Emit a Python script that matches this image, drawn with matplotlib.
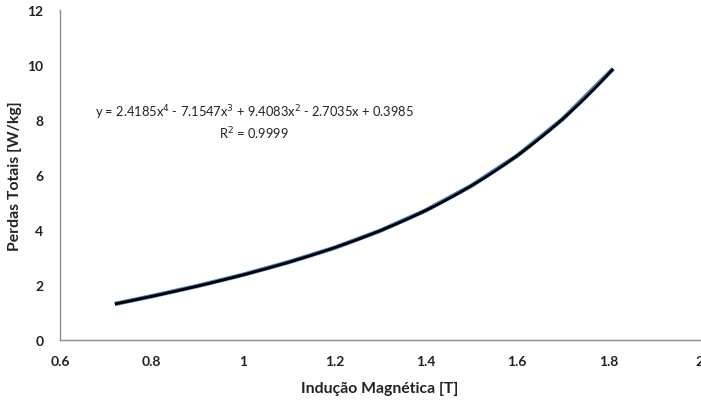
import numpy as np
import matplotlib
matplotlib.use("Agg")
import matplotlib.pyplot as plt

# measured core losses vs. peak induction
induction = [0.72, 0.80, 0.90, 1.00, 1.10, 1.20, 1.30, 1.40, 1.50, 1.60, 1.70, 1.81]
losses = [1.31, 1.59, 1.96, 2.37, 2.83, 3.35, 3.97, 4.71, 5.61, 6.70, 8.04, 9.86]

# 4th order polynomial trendline, highest power first
trend_coef = [2.4185, -7.1547, 9.4083, -2.7035, 0.3985]
r_squared = 0.9999

x_ticks = [0.6, 0.8, 1.0, 1.2, 1.4, 1.6, 1.8, 2.0]
y_ticks = [0, 2, 4, 6, 8, 10, 12]

plt.rcParams['font.family'] = ['Lato', 'DejaVu Sans']

fig = plt.figure(figsize=(7.01, 4.02), dpi=100)
ax = fig.add_axes([60 / 701, 1 - 341 / 402, 640 / 701, 330 / 402])

ax.plot(induction, losses, color='#4F81BD', lw=3.2, solid_capstyle='butt', zorder=2)
xs = np.linspace(induction[0], induction[-1], 200)
ax.plot(xs, np.polyval(trend_coef, xs), color='black', lw=2.0, solid_capstyle='butt', zorder=3)

ax.set_xlim(0.6, 2.0)
ax.set_ylim(0, 12)
ax.set_xticks(x_ticks)
ax.set_yticks(y_ticks)
ax.set_xticklabels(['0.6', '0.8', '1', '1.2', '1.4', '1.6', '1.8', '2'],
                   fontsize=10, fontweight='bold', color='#222222')
ax.set_yticklabels([str(v) for v in y_ticks], fontsize=10, fontweight='bold', color='#222222')
ax.tick_params(axis='x', length=0, pad=11)
ax.tick_params(axis='y', length=0, pad=12)

for side in ['top', 'right']:
    ax.spines[side].set_visible(False)
for side in ['left', 'bottom']:
    ax.spines[side].set_color('#8c8c8c')
    ax.spines[side].set_linewidth(1.0)

ax.set_xlabel('Indução Magnética [T]', fontsize=11.3, fontweight='bold', color='#222222', labelpad=10)
ax.set_ylabel('Perdas Totais [W/kg]', fontsize=11.3, fontweight='bold', color='#222222')
ax.yaxis.set_label_coords(-38 / 640, 0.5)

eq = ("y = 2.4185x$^4$ - 7.1547x$^3$ + 9.4083x$^2$ - 2.7035x + 0.3985\n"
      "R$^2$ = 0.9999")
fig.text(254 / 701, 1 - 123 / 402, eq, ha='center', va='center', fontsize=9.3,
         color='#222222', linespacing=1.25)

fig.savefig('out.png', dpi=100)
